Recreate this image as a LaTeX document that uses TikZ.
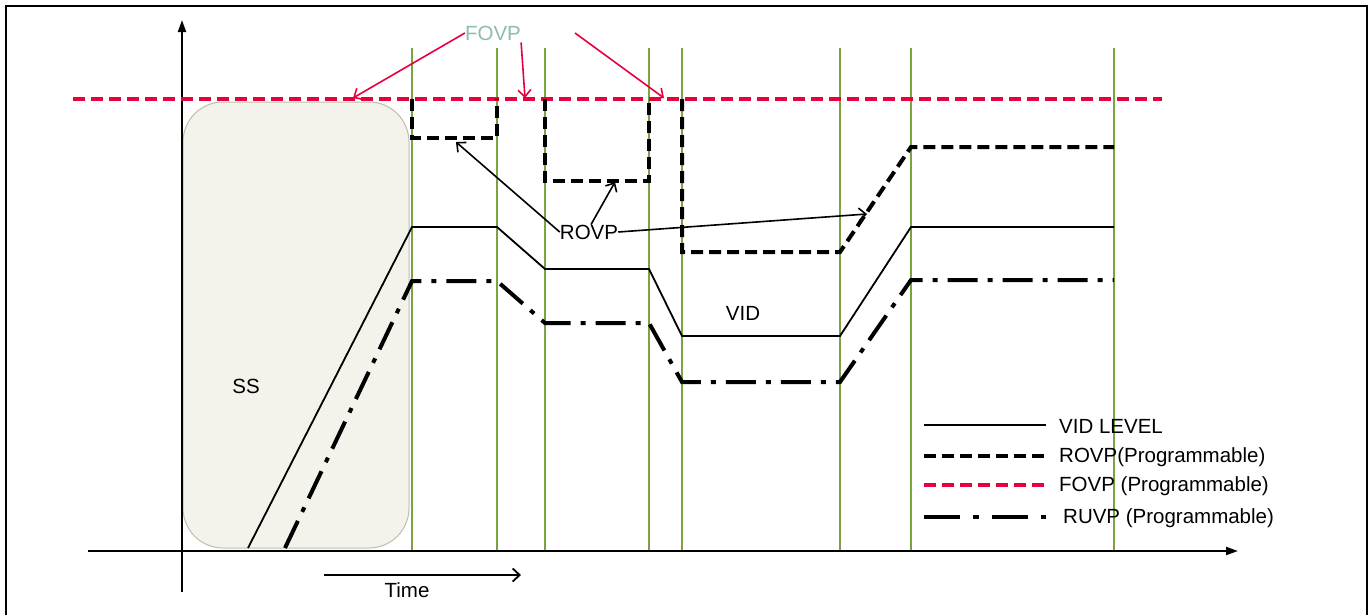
\documentclass[tikz,border=0pt]{standalone}
\usepackage{fontspec}
\setmainfont{Liberation Sans}
\usetikzlibrary{arrows.meta}
\definecolor{vgreen}{RGB}{122,164,66}
\definecolor{fred}{RGB}{232,0,61}
\definecolor{flabel}{RGB}{140,190,168}
\definecolor{ssfill}{RGB}{243,243,236}
\definecolor{ssdraw}{RGB}{190,190,175}
\begin{document}
\begin{tikzpicture}[x=1pt,y=-1pt,
  font=\fontsize{20.5}{23}\selectfont,
  frame/.style={line width=2.5pt},
  vline/.style={vgreen, line width=2pt},
  axisline/.style={line width=2pt, -{Triangle[length=12pt,width=8pt]}},
  ssbox/.style={fill=ssfill, draw=ssdraw, line width=1pt, rounded corners=40pt},
  fovpline/.style={fred, line width=4pt, dash pattern=on 12pt off 6pt},
  rovpline/.style={black, line width=4pt, dash pattern=on 12pt off 6pt},
  vidline/.style={black, line width=1.8pt},
  ruvpline/.style={black, line width=4pt, dash pattern=on 30pt off 10pt on 5pt off 10pt},
  redarrow/.style={fred, line width=1.6pt, -{Straight Barb[length=7pt,width=13pt]}},
  blackarrow/.style={black, line width=1.6pt, -{Straight Barb[length=7pt,width=13pt]}},
  lbl/.style={inner sep=0pt, text=black}
]
\useasboundingbox (0,0) rectangle (1370,614);
% frame
\draw[frame] (6,620) -- (6,6) -- (1367,6) -- (1367,620);
% green time markers
\foreach \x in {412,497,545,649,682,840,911,1114}
  \draw[vline] (\x,48) -- (\x,551);
% soft start box
\draw[ssbox] (183,102) rectangle (409,548);
\node[lbl] (ss) at (246,386) {SS};
% axes
\coordinate (ybot) at (182,592);
\coordinate (ytop) at (182,20);
\coordinate (xl) at (88,551);
\coordinate (xr) at (1238,551);
\draw[axisline] (ybot) -- (ytop);
\draw[axisline] (xl) -- (xr);
% FOVP
\draw[fovpline] (73,99) -- (1162,99);
% ROVP
\draw[rovpline] (412,99) -- (412,138) -- (497,138) -- (497,99);
\draw[rovpline] (545,99) -- (545,181) -- (649,181) -- (649,99);
\draw[rovpline] (682,99) -- (682,252) -- (840,252) -- (911,147) -- (1114,147);
% VID
\draw[vidline] (248,548) -- (412,227) -- (497,227) -- (545,269) -- (649,269) -- (682,336) -- (840,336) -- (911,227) -- (1114,227);
% RUVP
\draw[ruvpline] (285,548) -- (412,281) -- (497,281) -- (545,323) -- (649,323) -- (682,382) -- (840,382) -- (911,280) -- (1114,280);
% FOVP label and arrows
\node[lbl, text=flabel] (fovp) at (493,33) {FOVP};
\coordinate (f1) at (353,98);
\coordinate (f2) at (525,98);
\coordinate (f3s) at (575,33);
\coordinate (f3) at (664,98);
\draw[redarrow] (fovp.west) -- (f1);
\draw[redarrow] (fovp.south east) ++(0,2) -- (f2);
\draw[redarrow] (f3s) -- (f3);
% ROVP label and arrows
\node[lbl] (rovp) at (589,232) {ROVP};
\coordinate (r1) at (456,142);
\coordinate (r2) at (615,182);
\coordinate (r3) at (867,214);
\draw[blackarrow] (rovp.west) -- (r1);
\draw[blackarrow] ([xshift=2pt]rovp.north) -- (r2);
\draw[blackarrow] (rovp.east) -- (r3);
% VID label
\node[lbl] (vid) at (743,313) {VID};
% Time
\coordinate (ta) at (324,575);
\coordinate (tb) at (521,575);
\draw[blackarrow, line width=1.8pt] (ta) -- (tb);
\node[lbl] (time) at (407,590) {Time};
% legend
\coordinate (l1a) at (924,425); \coordinate (l1b) at (1046,425);
\coordinate (l2a) at (924,456); \coordinate (l2b) at (1046,456);
\coordinate (l3a) at (924,485); \coordinate (l3b) at (1046,485);
\coordinate (l4a) at (924,517); \coordinate (l4b) at (1046,517);
\draw[vidline] (l1a) -- (l1b);
\draw[rovpline] (l2a) -- (l2b);
\draw[fovpline] (l3a) -- (l3b);
\draw[ruvpline, dash pattern=on 36pt off 13pt on 6pt off 13pt] (l4a) -- (l4b);
\node[lbl, anchor=west] (leg1) at (1059,426) {VID LEVEL};
\node[lbl, anchor=west] (leg2) at (1059,457) {ROVP(Programmable)};
\node[lbl, anchor=west] (leg3) at (1059,486) {FOVP (Programmable)};
\node[lbl, anchor=west] (leg4) at (1063,518) {RUVP (Programmable)};
\end{tikzpicture}
\end{document}
